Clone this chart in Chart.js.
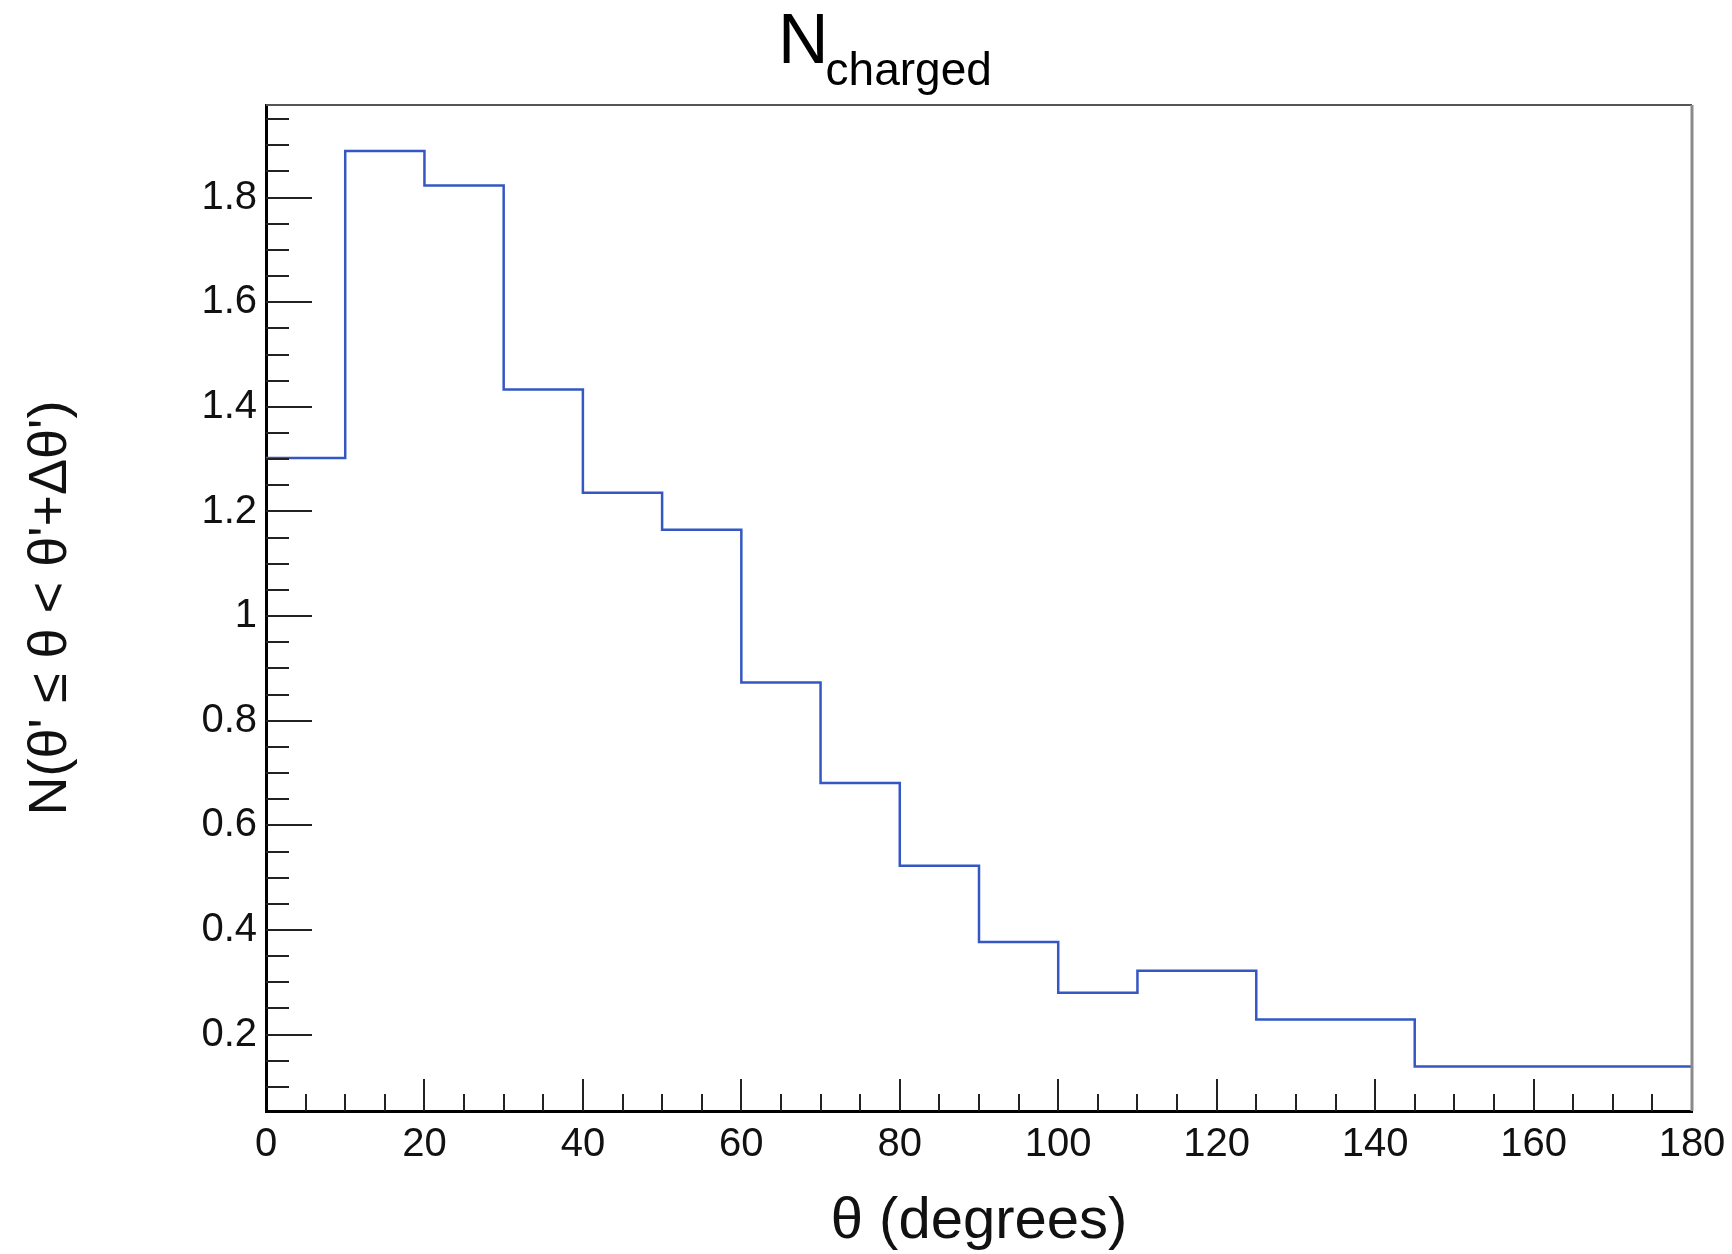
<!DOCTYPE html>
<html>
<head>
<meta charset="utf-8">
<script src="https://cdn.jsdelivr.net/npm/chart.js@4.4.1/dist/chart.umd.min.js"></script>
<style>
  html, body { margin: 0; padding: 0; background: #fff; }
  #wrap { position: relative; width: 1732px; height: 1254px; }
  #plotTitle {
    position: absolute; left: 778px; top: 4px;
    font-family: 'Liberation Sans', Arial, sans-serif;
    font-size: 70px; line-height: 70px; color: #000; white-space: nowrap;
  }
  #plotTitle span { font-size: 46px; position: relative; top: 22px; margin-left: -3px; }
</style>
</head>
<body>
<div id="wrap">
  <canvas id="chart" width="1732" height="1254"></canvas>
  <div id="plotTitle">N<span>charged</span></div>
</div>
<script>
// histogram bins (degrees) and contents
const binEdges  = [0, 10, 20, 30, 40, 50, 60, 70, 80, 90, 100, 110, 125, 145, 180];
const binValues = [1.302, 1.889, 1.823, 1.433, 1.236, 1.165, 0.873, 0.681, 0.523, 0.377, 0.280, 0.322, 0.229, 0.139];

const xTitle = 'θ (degrees)';
const yTitle = "N(θ' ≤ θ < θ'+Δθ')";
const xRange = [0, 180];
const yRange = [0.054, 1.977];

const FONT = "'Liberation Sans', Arial, sans-serif";

// step points: one per left edge, plus the last right edge
const points = binValues.map((v, i) => ({ x: binEdges[i], y: v }));
points.push({ x: binEdges[binEdges.length - 1], y: binValues[binValues.length - 1] });

// ROOT-style ticks drawn inside the frame + grey top/right border
const rootFrame = {
    id: 'rootFrame',
    afterDraw(chart) {
        const { ctx, chartArea: a, scales: { x, y } } = chart;
        ctx.save();
        ctx.strokeStyle = '#555';
        ctx.lineWidth = 2;
        ctx.beginPath();
        ctx.moveTo(a.left, a.top); ctx.lineTo(a.right, a.top);
        ctx.stroke();
        ctx.strokeStyle = '#8a8a8a';
        ctx.lineWidth = 3;
        ctx.beginPath();
        ctx.moveTo(a.right, a.top); ctx.lineTo(a.right, a.bottom);
        ctx.stroke();

        ctx.strokeStyle = '#222';
        ctx.lineWidth = 2;
        for (let k = Math.ceil(y.min / 0.05); k * 0.05 <= y.max; k++) {
            const py = Math.round(y.getPixelForValue(k * 0.05));
            const len = k % 4 === 0 ? 46 : 23;
            ctx.beginPath();
            ctx.moveTo(a.left, py); ctx.lineTo(a.left + len, py);
            ctx.stroke();
        }
        for (let d = 5; d < x.max; d += 5) {
            const px = Math.round(x.getPixelForValue(d));
            const len = d % 20 === 0 ? 32 : 17;
            ctx.beginPath();
            ctx.moveTo(px, a.bottom); ctx.lineTo(px, a.bottom - len);
            ctx.stroke();
        }
        ctx.restore();
    }
};

new Chart(document.getElementById('chart'), {
    type: 'line',
    data: {
        datasets: [{
            data: points,
            stepped: 'before',
            borderColor: '#3557c4',
            borderWidth: 2.5,
            pointRadius: 0,
            fill: false
        }]
    },
    options: {
        responsive: false,
        devicePixelRatio: 1,
        animation: false,
        layout: { padding: { top: 105, right: 40, left: 0, bottom: 0 } },
        plugins: { legend: { display: false }, tooltip: { enabled: false } },
        scales: {
            x: {
                type: 'linear',
                min: xRange[0], max: xRange[1],
                grid: { display: false, drawTicks: false },
                border: { display: true, color: '#000', width: 3 },
                ticks: {
                    stepSize: 20, includeBounds: false, autoSkip: false, maxRotation: 0,
                    padding: 10, color: '#111', font: { family: FONT, size: 40 }
                },
                title: {
                    display: true, text: xTitle, color: '#111',
                    font: { family: FONT, size: 58, lineHeight: 1 },
                    padding: { top: 0, bottom: 3 }
                },
                afterFit(scale) {
                    scale.height = 143;
                    scale.paddingLeft = 0;
                    scale.paddingRight = 0;
                }
            },
            y: {
                min: yRange[0], max: yRange[1],
                grid: { display: false, drawTicks: false },
                border: { display: true, color: '#000', width: 3 },
                ticks: {
                    stepSize: 0.2, includeBounds: false, padding: 9,
                    color: '#111', font: { family: FONT, size: 40 },
                    callback: v => parseFloat(v.toFixed(2)).toString()
                },
                title: {
                    display: true, text: yTitle, color: '#111',
                    font: { family: FONT, size: 54, lineHeight: 1 },
                    padding: { top: 24, bottom: 0 }
                },
                afterFit(scale) { scale.width = 266; }
            }
        }
    },
    plugins: [rootFrame]
});
</script>
</body>
</html>
